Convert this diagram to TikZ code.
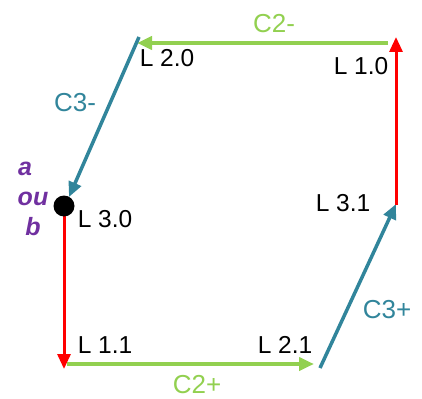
\documentclass[tikz,border=0pt]{standalone}
\usepackage{fontspec}
\setmainfont{Liberation Sans}
\usetikzlibrary{arrows.meta}
\definecolor{cred}{RGB}{255,0,0}
\definecolor{cgreen}{RGB}{146,208,80}
\definecolor{cteal}{RGB}{49,133,155}
\definecolor{cpurple}{RGB}{112,48,160}
\tikzset{
  lbl/.style={anchor=base,inner sep=0pt,font=\fontsize{24.5}{28}\selectfont,text=black},
  clbl/.style={anchor=base,inner sep=0pt,font=\fontsize{26}{30}\selectfont},
  plbl/.style={anchor=base,inner sep=0pt,text=cpurple,font=\fontsize{25}{29}\selectfont\bfseries\itshape},
  arr/.style={-{Triangle[length=15pt,width=13pt]}},
  redarr/.style={arr,draw=cred,fill=cred,line width=3pt},
  greenarr/.style={arr,draw=cgreen,fill=cgreen,line width=4pt},
  tealarr/.style={arr,draw=cteal,fill=cteal,line width=3.5pt},
}
\begin{document}
\begin{tikzpicture}[x=1pt,y=-1pt]
\useasboundingbox (0,0) rectangle (422,398);
% points
\coordinate (p30) at (64,206);
\coordinate (p30b) at (64,215);
\coordinate (p11) at (64,369);
\coordinate (g11) at (67,364);
\coordinate (p21) at (314,364);
\coordinate (t21) at (320,368);
\coordinate (p31) at (396,204);
\coordinate (r31) at (396,205);
\coordinate (p10) at (396,37);
\coordinate (g10) at (388,43);
\coordinate (p20) at (137,43);
\coordinate (t20) at (139,37);
\coordinate (t30) at (69,197);
% connectors
\draw[redarr] (p30b) -- (p11);
\draw[greenarr] (g11) -- (p21);
\draw[tealarr] (t21) -- (p31);
\draw[redarr] (r31) -- (p10);
\draw[greenarr] (g10) -- (p20);
\draw[tealarr] (t20) -- (t30);
\node[circle,fill=black,minimum size=21pt,inner sep=0pt] (dot) at (p30) {};
% labels
\node[lbl] (l20) at (167,67) {L 2.0};
\node[lbl] (l10) at (361,75) {L 1.0};
\node[lbl] (l31) at (343,211) {L 3.1};
\node[lbl] (l30) at (105,227) {L 3.0};
\node[lbl] (l11) at (105,353) {L 1.1};
\node[lbl] (l21) at (285,353) {L 2.1};
\node[clbl,text=cgreen] (c2m) at (274,33) {C2-};
\node[clbl,text=cgreen,text depth=0pt] (c2p) at (197,393) {C2+};
\node[clbl,text=cteal] (c3m) at (75,112) {C3-};
\node[clbl,text=cteal] (c3p) at (387,318) {C3+};
\node[plbl] (pa) at (25,175) {a};
\node[plbl] (pou) at (33,205) {ou};
\node[plbl] (pb) at (33,235) {b};
\end{tikzpicture}
\end{document}
